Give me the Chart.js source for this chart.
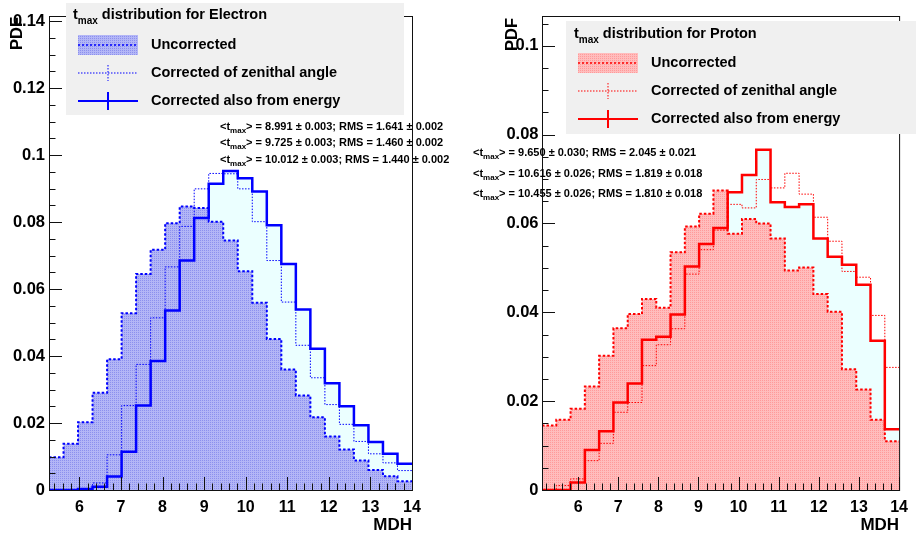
<!DOCTYPE html>
<html>
<head>
<meta charset="utf-8">
<script src="https://cdn.jsdelivr.net/npm/chart.js@4.4.0/dist/chart.umd.min.js"></script>
<style>
  html, body { margin: 0; padding: 0; background: #fff; }
  #wrap { position: relative; width: 916px; height: 538px; overflow: hidden; }
  .pane { position: absolute; top: 0; width: 458px; height: 538px; }
</style>
</head>
<body>
<div id="wrap">
  <div class="pane" style="left:0"><canvas id="elec" width="458" height="538"></canvas></div>
  <div class="pane" style="left:458px"><canvas id="prot" width="458" height="538"></canvas></div>
</div>
<script>
// ---- data ----
const xTicks = [6, 7, 8, 9, 10, 11, 12, 13, 14];

// electron panel: 25 bins
const elecRange = [5.27, 14];
const elecYMax = 0.1415;
const elecYTicks = [0, 0.02, 0.04, 0.06, 0.08, 0.1, 0.12, 0.14];
const elecUncorr = [0.0098, 0.0138, 0.0202, 0.0290, 0.0390, 0.0528, 0.0645, 0.0717, 0.0796, 0.0846, 0.0842, 0.0801, 0.0745,
                    0.0653, 0.0559, 0.0451, 0.0360, 0.0282, 0.0217, 0.0160, 0.0121, 0.0088, 0.0060, 0.0041, 0.0026];
const elecZenith = [0, 0, 0.0003, 0.0021, 0.0105, 0.0252, 0.0375, 0.0514, 0.0666, 0.0787, 0.0899, 0.0945, 0.0944,
                    0.0899, 0.0801, 0.0685, 0.0561, 0.0432, 0.0335, 0.0255, 0.0196, 0.0145, 0.0108, 0.0081, 0.0058];
const elecEnergy = [0, 0, 0.0003, 0.0010, 0.0040, 0.0114, 0.0252, 0.0385, 0.0536, 0.0685, 0.0812, 0.0914, 0.0952,
                    0.0931, 0.0891, 0.0790, 0.0675, 0.0539, 0.0422, 0.0319, 0.0250, 0.0193, 0.0143, 0.0108, 0.0078];
const elecStats = [
  ['8.991', '0.003', '1.641', '0.002'],
  ['9.725', '0.003', '1.460', '0.002'],
  ['10.012', '0.003', '1.440', '0.002']
];

// proton panel: 25 bins
const protRange = [5.1, 14];
const protYMax = 0.1067;
const protYTicks = [0, 0.02, 0.04, 0.06, 0.08, 0.1];
const protUncorr = [0.0145, 0.0158, 0.0183, 0.0233, 0.0302, 0.0364, 0.0396, 0.0430, 0.0410, 0.0535, 0.0593, 0.0622, 0.0674,
                    0.0577, 0.0610, 0.0600, 0.0566, 0.0494, 0.0501, 0.0441, 0.0401, 0.0272, 0.0226, 0.0158, 0.0110];
const protZenith = [0, 0.0010, 0.0025, 0.0066, 0.0105, 0.0175, 0.0197, 0.0280, 0.0327, 0.0363, 0.0486, 0.0541, 0.0585,
                    0.0643, 0.0635, 0.0699, 0.0680, 0.0713, 0.0666, 0.0614, 0.0560, 0.0492, 0.0479, 0.0393, 0.0276];
const protEnergy = [0, 0, 0.0017, 0.0090, 0.0132, 0.0197, 0.0240, 0.0338, 0.0345, 0.0395, 0.0503, 0.0554, 0.0590,
                    0.0670, 0.0709, 0.0766, 0.0648, 0.0637, 0.0643, 0.0566, 0.0525, 0.0507, 0.0462, 0.0336, 0.0137];
const protStats = [
  ['9.650', '0.030', '2.045', '0.021'],
  ['10.616', '0.026', '1.819', '0.018'],
  ['10.455', '0.026', '1.810', '0.018']
];

const legendLabels = ['Uncorrected', 'Corrected of zenithal angle', 'Corrected also from energy'];

// ---- helpers ----
const FONT = '"Liberation Sans", Arial, Helvetica, sans-serif';

// histogram bins -> points for a stepped line (left edges + closing right edge)
function histPoints(range, vals) {
  const w = (range[1] - range[0]) / vals.length;
  const pts = vals.map((v, i) => ({ x: range[0] + i * w, y: v }));
  pts.push({ x: range[1], y: vals[vals.length - 1] });
  return pts;
}

// fine dotted fill, like the ROOT fill style
function makePattern(base, dot) {
  const c = document.createElement('canvas');
  c.width = 2; c.height = 2;
  const g = c.getContext('2d');
  g.fillStyle = base;
  g.fillRect(0, 0, 2, 2);
  g.fillStyle = dot;
  g.fillRect(0, 0, 1, 1);
  return g.createPattern(c, 'repeat');
}

// draws "<t_max>"-style text with a subscript, returns x after it
function textWithSub(ctx, x, y, pre, sub, post, size, subSize, subDrop) {
  ctx.font = 'bold ' + size + 'px ' + FONT;
  ctx.fillText(pre, x, y);
  x += ctx.measureText(pre).width;
  ctx.font = 'bold ' + subSize + 'px ' + FONT;
  ctx.fillText(sub, x, y + subDrop);
  x += ctx.measureText(sub).width;
  ctx.font = 'bold ' + size + 'px ' + FONT;
  ctx.fillText(post, x, y);
  return x + ctx.measureText(post).width;
}

// ROOT-like frame, inner ticks, legend box and stats text
const panelPlugin = {
  id: 'panel',
  afterDatasetsDraw(chart) {
    const { ctx, chartArea: a, scales: { x, y } } = chart;
    ctx.save();
    ctx.strokeStyle = '#111';
    ctx.lineWidth = 1;
    ctx.strokeRect(a.left + 0.5, a.top + 0.5, a.right - a.left, a.bottom - a.top);
    ctx.beginPath();
    for (let k = Math.ceil(x.min * 5 - 1e-6); k <= Math.floor(x.max * 5 + 1e-6); k++) {
      const px = Math.round(x.getPixelForValue(k / 5)) + 0.5;
      const len = k % 5 === 0 ? 13 : 6.5;
      ctx.moveTo(px, a.bottom);
      ctx.lineTo(px, a.bottom - len);
    }
    for (let k = 0; k * 0.005 <= y.max + 1e-9; k++) {
      const py = Math.round(y.getPixelForValue(k * 0.005)) + 0.5;
      const len = k % 4 === 0 ? 13 : 6.5;
      ctx.moveTo(a.left, py);
      ctx.lineTo(a.left + len, py);
    }
    ctx.stroke();
    ctx.restore();
  },
  afterDraw(chart) {
    const o = chart.options.plugins.panel;
    const { ctx, chartArea: a } = chart;
    const L = o.legend;
    ctx.save();
    ctx.textBaseline = 'middle';
    ctx.fillStyle = '#000';

    // axis titles
    ctx.font = 'bold 17px ' + FONT;
    ctx.textAlign = 'right';
    ctx.fillText('MDH', a.right, 525);
    ctx.save();
    ctx.translate(o.pdfX, o.pdfY);
    ctx.rotate(-Math.PI / 2);
    ctx.font = 'bold 16.5px ' + FONT;
    ctx.fillText('PDF', 0, 0);
    ctx.restore();

    // legend box
    ctx.textAlign = 'left';
    ctx.fillStyle = '#f0f0f0';
    ctx.fillRect(L.x, L.y, L.w, L.h);
    ctx.fillStyle = '#000';
    textWithSub(ctx, L.titleX, L.titleY, 't', 'max', ' distribution for ' + o.name, 14.5, 10, 6);

    const sx0 = L.symX, sx1 = L.symX + 60, sxm = L.symX + 30;
    L.rows.forEach((ry, i) => {
      ctx.fillStyle = '#000';
      ctx.font = 'bold 14.5px ' + FONT;
      ctx.fillText(legendLabels[i], L.textX, ry);
      ctx.strokeStyle = o.color;
      ctx.beginPath();
      if (i === 0) {
        ctx.fillStyle = o.fill;
        ctx.fillRect(sx0, ry - 10, 60, 20);
        ctx.lineWidth = 1.5;
        ctx.setLineDash([2, 2]);
        ctx.moveTo(sx0, ry); ctx.lineTo(sx1, ry);
      } else if (i === 1) {
        ctx.lineWidth = 1;
        ctx.setLineDash([1.5, 1.5]);
        ctx.moveTo(sx0, ry); ctx.lineTo(sx1, ry);
        ctx.moveTo(sxm, ry - 8); ctx.lineTo(sxm, ry + 8);
      } else {
        ctx.lineWidth = 2;
        ctx.setLineDash([]);
        ctx.moveTo(sx0, ry); ctx.lineTo(sx1, ry);
        ctx.moveTo(sxm, ry - 9); ctx.lineTo(sxm, ry + 9);
      }
      ctx.stroke();
    });
    ctx.setLineDash([]);

    // stats lines
    ctx.fillStyle = '#000';
    o.stats.forEach((s, i) => {
      textWithSub(ctx, o.statX, o.statY[i], '<t', 'max', '> = ' + s[0] + ' \u00b1 ' + s[1] + '; RMS = ' + s[2] + ' \u00b1 ' + s[3], 11, 8, 4);
    });
    ctx.restore();
  }
};

function buildChart(id, opt) {
  const col = opt.color;
  const pattern = makePattern(opt.fillBase, opt.fillDot);
  const base = { stepped: 'before', pointRadius: 0, tension: 0 };
  return new Chart(document.getElementById(id), {
    type: 'line',
    data: {
      datasets: [
        Object.assign({}, base, { data: histPoints(opt.range, opt.energy), fill: 'origin', backgroundColor: '#ebffff',
          borderColor: 'rgba(0,0,0,0)', borderWidth: 0, order: 4 }),
        Object.assign({}, base, { data: histPoints(opt.range, opt.uncorr), fill: 'origin', backgroundColor: pattern,
          borderColor: col, borderWidth: 2, borderDash: [2.5, 2], order: 3 }),
        Object.assign({}, base, { data: histPoints(opt.range, opt.zenith), fill: false,
          borderColor: col, borderWidth: 1, borderDash: [1.5, 1.5], order: 2 }),
        Object.assign({}, base, { data: histPoints(opt.range, opt.energy), fill: false,
          borderColor: col, borderWidth: 2.5, order: 1 })
      ]
    },
    options: {
      responsive: false,
      animation: false,
      layout: { padding: { top: 16, right: opt.padRight, left: 0, bottom: 0 } },
      scales: {
        x: {
          type: 'linear',
          min: opt.range[0],
          max: opt.range[1],
          afterBuildTicks: s => { s.ticks = xTicks.map(v => ({ value: v })); },
          afterFit: s => { s.height = 48; },
          grid: { display: false, drawTicks: false },
          border: { display: false },
          ticks: { color: '#000', padding: 8, autoSkip: false, maxRotation: 0,
                   font: { family: FONT, size: 16, weight: 'bold' }, callback: v => String(v) }
        },
        y: {
          min: 0,
          max: opt.yMax,
          afterBuildTicks: s => { s.ticks = opt.yTicks.map(v => ({ value: v })); },
          afterFit: s => { s.width = opt.axisW; },
          grid: { display: false, drawTicks: false },
          border: { display: false },
          ticks: { color: '#000', padding: opt.yPad, autoSkip: false,
                   font: { family: FONT, size: 16.5, weight: 'bold' }, callback: v => String(v) }
        }
      },
      plugins: {
        legend: { display: false },
        tooltip: { enabled: false },
        panel: {
          name: opt.name, color: col, fill: pattern, stats: opt.stats,
          statX: opt.statX, statY: opt.statY, pdfX: opt.pdfX, pdfY: opt.pdfY, legend: opt.legend
        }
      }
    },
    plugins: [panelPlugin]
  });
}

buildChart('elec', {
  name: 'Electron', color: '#0000ff', fillBase: '#b3b6f6', fillDot: '#8c90ee',
  range: elecRange, yMax: elecYMax, yTicks: elecYTicks,
  uncorr: elecUncorr, zenith: elecZenith, energy: elecEnergy, stats: elecStats,
  padRight: 46, axisW: 49, yPad: 4,
  statX: 220, statY: [127, 143, 160], pdfX: 17, pdfY: 17,
  legend: { x: 66, y: 3, w: 338, h: 112, titleX: 73, titleY: 15, rows: [45, 73, 101], symX: 78, textX: 151 }
});

buildChart('prot', {
  name: 'Proton', color: '#ff0000', fillBase: '#ffbdbd', fillDot: '#ff9a9a',
  range: protRange, yMax: protYMax, yTicks: protYTicks,
  uncorr: protUncorr, zenith: protZenith, energy: protEnergy, stats: protStats,
  padRight: 10, axisW: 84, yPad: 3.5,
  statX: 15, statY: [153, 174, 194], pdfX: 54, pdfY: 18,
  legend: { x: 108, y: 21, w: 360, h: 113, titleX: 116, titleY: 34, rows: [63, 91, 119], symX: 120, textX: 193 }
});
</script>
</body>
</html>
